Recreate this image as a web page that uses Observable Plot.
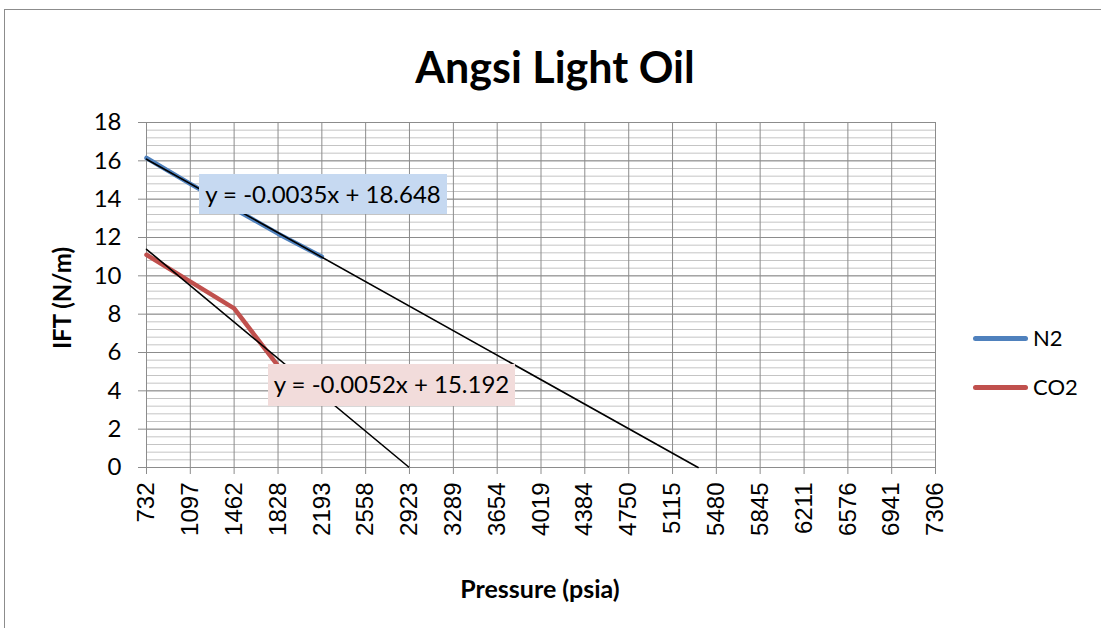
<!DOCTYPE html>
<html><head><meta charset="utf-8">
<script src="https://cdn.jsdelivr.net/npm/d3@7"></script>
<script src="https://cdn.jsdelivr.net/npm/@observablehq/plot@0.6"></script>
<style>
body{margin:0;background:#fff;}
#wrap{position:relative;width:1101px;height:628px;overflow:hidden;font-family:Lato,"Open Sans",sans-serif;color:#000;}
#frame{position:absolute;left:4px;top:9px;width:1200px;height:700px;border:1px solid #8c8c8c;box-sizing:border-box;}
.abs{position:absolute;white-space:nowrap;}
#title{left:0;width:1110px;top:42px;text-align:center;font-weight:bold;font-size:43px;line-height:50px;}
#xlabel{left:390px;width:300px;top:573px;text-align:center;font-weight:bold;font-size:25px;line-height:30px;}
#ylabel{left:62px;top:298px;transform:translate(-50%,-50%) rotate(-90deg);font-weight:bold;font-size:24px;line-height:30px;}
.eq{position:absolute;font-size:24px;line-height:40px;text-align:center;}
.lg{position:absolute;left:973px;width:55px;height:5px;border-radius:3px;}
.lt{position:absolute;left:1033px;font-size:22px;line-height:26px;}
</style></head><body><div id="wrap"><div id="frame"></div></div>
<script>
// Data
const pressureTicks = [732,1097,1462,1828,2193,2558,2923,3289,3654,4019,4384,4750,5115,5480,5845,6211,6576,6941,7306];
const iftTicks = [0,2,4,6,8,10,12,14,16,18];
const seriesNames = ["N2","CO2"];
const seriesColors = ["#4F81BD","#C0504D"];
const n2Pressure = [732,1097,1462,1828,2193];
const n2IFT = [16.15,14.8,13.5,12.2,11.0];
const co2Pressure = [732,1097,1462,1828];
const co2IFT = [11.1,9.7,8.3,5.3];
const trendSlopes = [-0.0035,-0.0052];
const trendIntercepts = [18.648,15.192];
const trendLabels = ["y = -0.0035x + 18.648","y = -0.0052x + 15.192"];

const n2 = n2Pressure.map((p,i)=>({p, v:n2IFT[i]}));
const co2 = co2Pressure.map((p,i)=>({p, v:co2IFT[i]}));
const trends = trendSlopes.map((m,i)=>{
  const b = trendIntercepts[i];
  return [{p:pressureTicks[0], v:m*pressureTicks[0]+b, s:seriesNames[i]},{p:-b/m, v:0, s:seriesNames[i]}];
}).flat();
const minorY = d3.range(0, 18.0001, 0.4);

const chart = Plot.plot({
  width:1101, height:628,
  marginLeft:146, marginRight:166, marginTop:122, marginBottom:161,
  style:{fontFamily:"Lato, sans-serif", background:"transparent", overflow:"visible"},
  x:{domain:[732,7306]},
  y:{domain:[0,18]},
  marks:[
    Plot.gridY(minorY,{stroke:"#c4c4c4", strokeOpacity:1}),
    Plot.gridY(iftTicks,{stroke:"#8c8c8c", strokeOpacity:1}),
    Plot.gridX(pressureTicks,{stroke:"#8c8c8c", strokeOpacity:1}),
    Plot.line(n2,{x:"p", y:"v", stroke:seriesColors[0], strokeWidth:4.5, strokeLinejoin:"round", strokeLinecap:"round"}),
    Plot.line(co2,{x:"p", y:"v", stroke:seriesColors[1], strokeWidth:4.5, strokeLinejoin:"round", strokeLinecap:"round"}),
    Plot.line(trends,{x:"p", y:"v", z:"s", stroke:"#000", strokeWidth:1.6}),
    Plot.axisY(iftTicks,{tickSize:8, tickPadding:17, fontSize:24, label:null, stroke:"#8c8c8c", fill:"#000"}),
    Plot.axisX(pressureTicks,{tickSize:7, tickPadding:8, tickRotate:-90, fontSize:24, label:null, stroke:"#8c8c8c", fill:"#000", fontFamily:"Liberation Sans, Arial, sans-serif", tickFormat:d=>String(d)})
  ]
});
const wrap = document.getElementById("wrap");
chart.style.position="absolute"; chart.style.left="0"; chart.style.top="0";
wrap.appendChild(chart);

function add(cls, id, text, css){
  const d=document.createElement("div"); d.className=cls; if(id) d.id=id; d.textContent=text||"";
  Object.assign(d.style, css||{}); wrap.appendChild(d); return d;
}
add("abs","title","Angsi Light Oil");
add("abs","xlabel","Pressure (psia)");
add("abs","ylabel","IFT (N/m)");
add("eq",null,trendLabels[0],{left:"199px",top:"174px",width:"248px",height:"40px",background:"#C6D9F1"});
add("eq",null,trendLabels[1],{left:"268px",top:"364px",width:"247px",height:"42px",background:"#F2DCDB"});
seriesNames.forEach((n,i)=>{
  const y = [338,387][i];
  add("lg",null,"",{top:(y-2.5)+"px",background:seriesColors[i]});
  add("lt",null,n,{top:(y-13)+"px"});
});
</script>
</body></html>
